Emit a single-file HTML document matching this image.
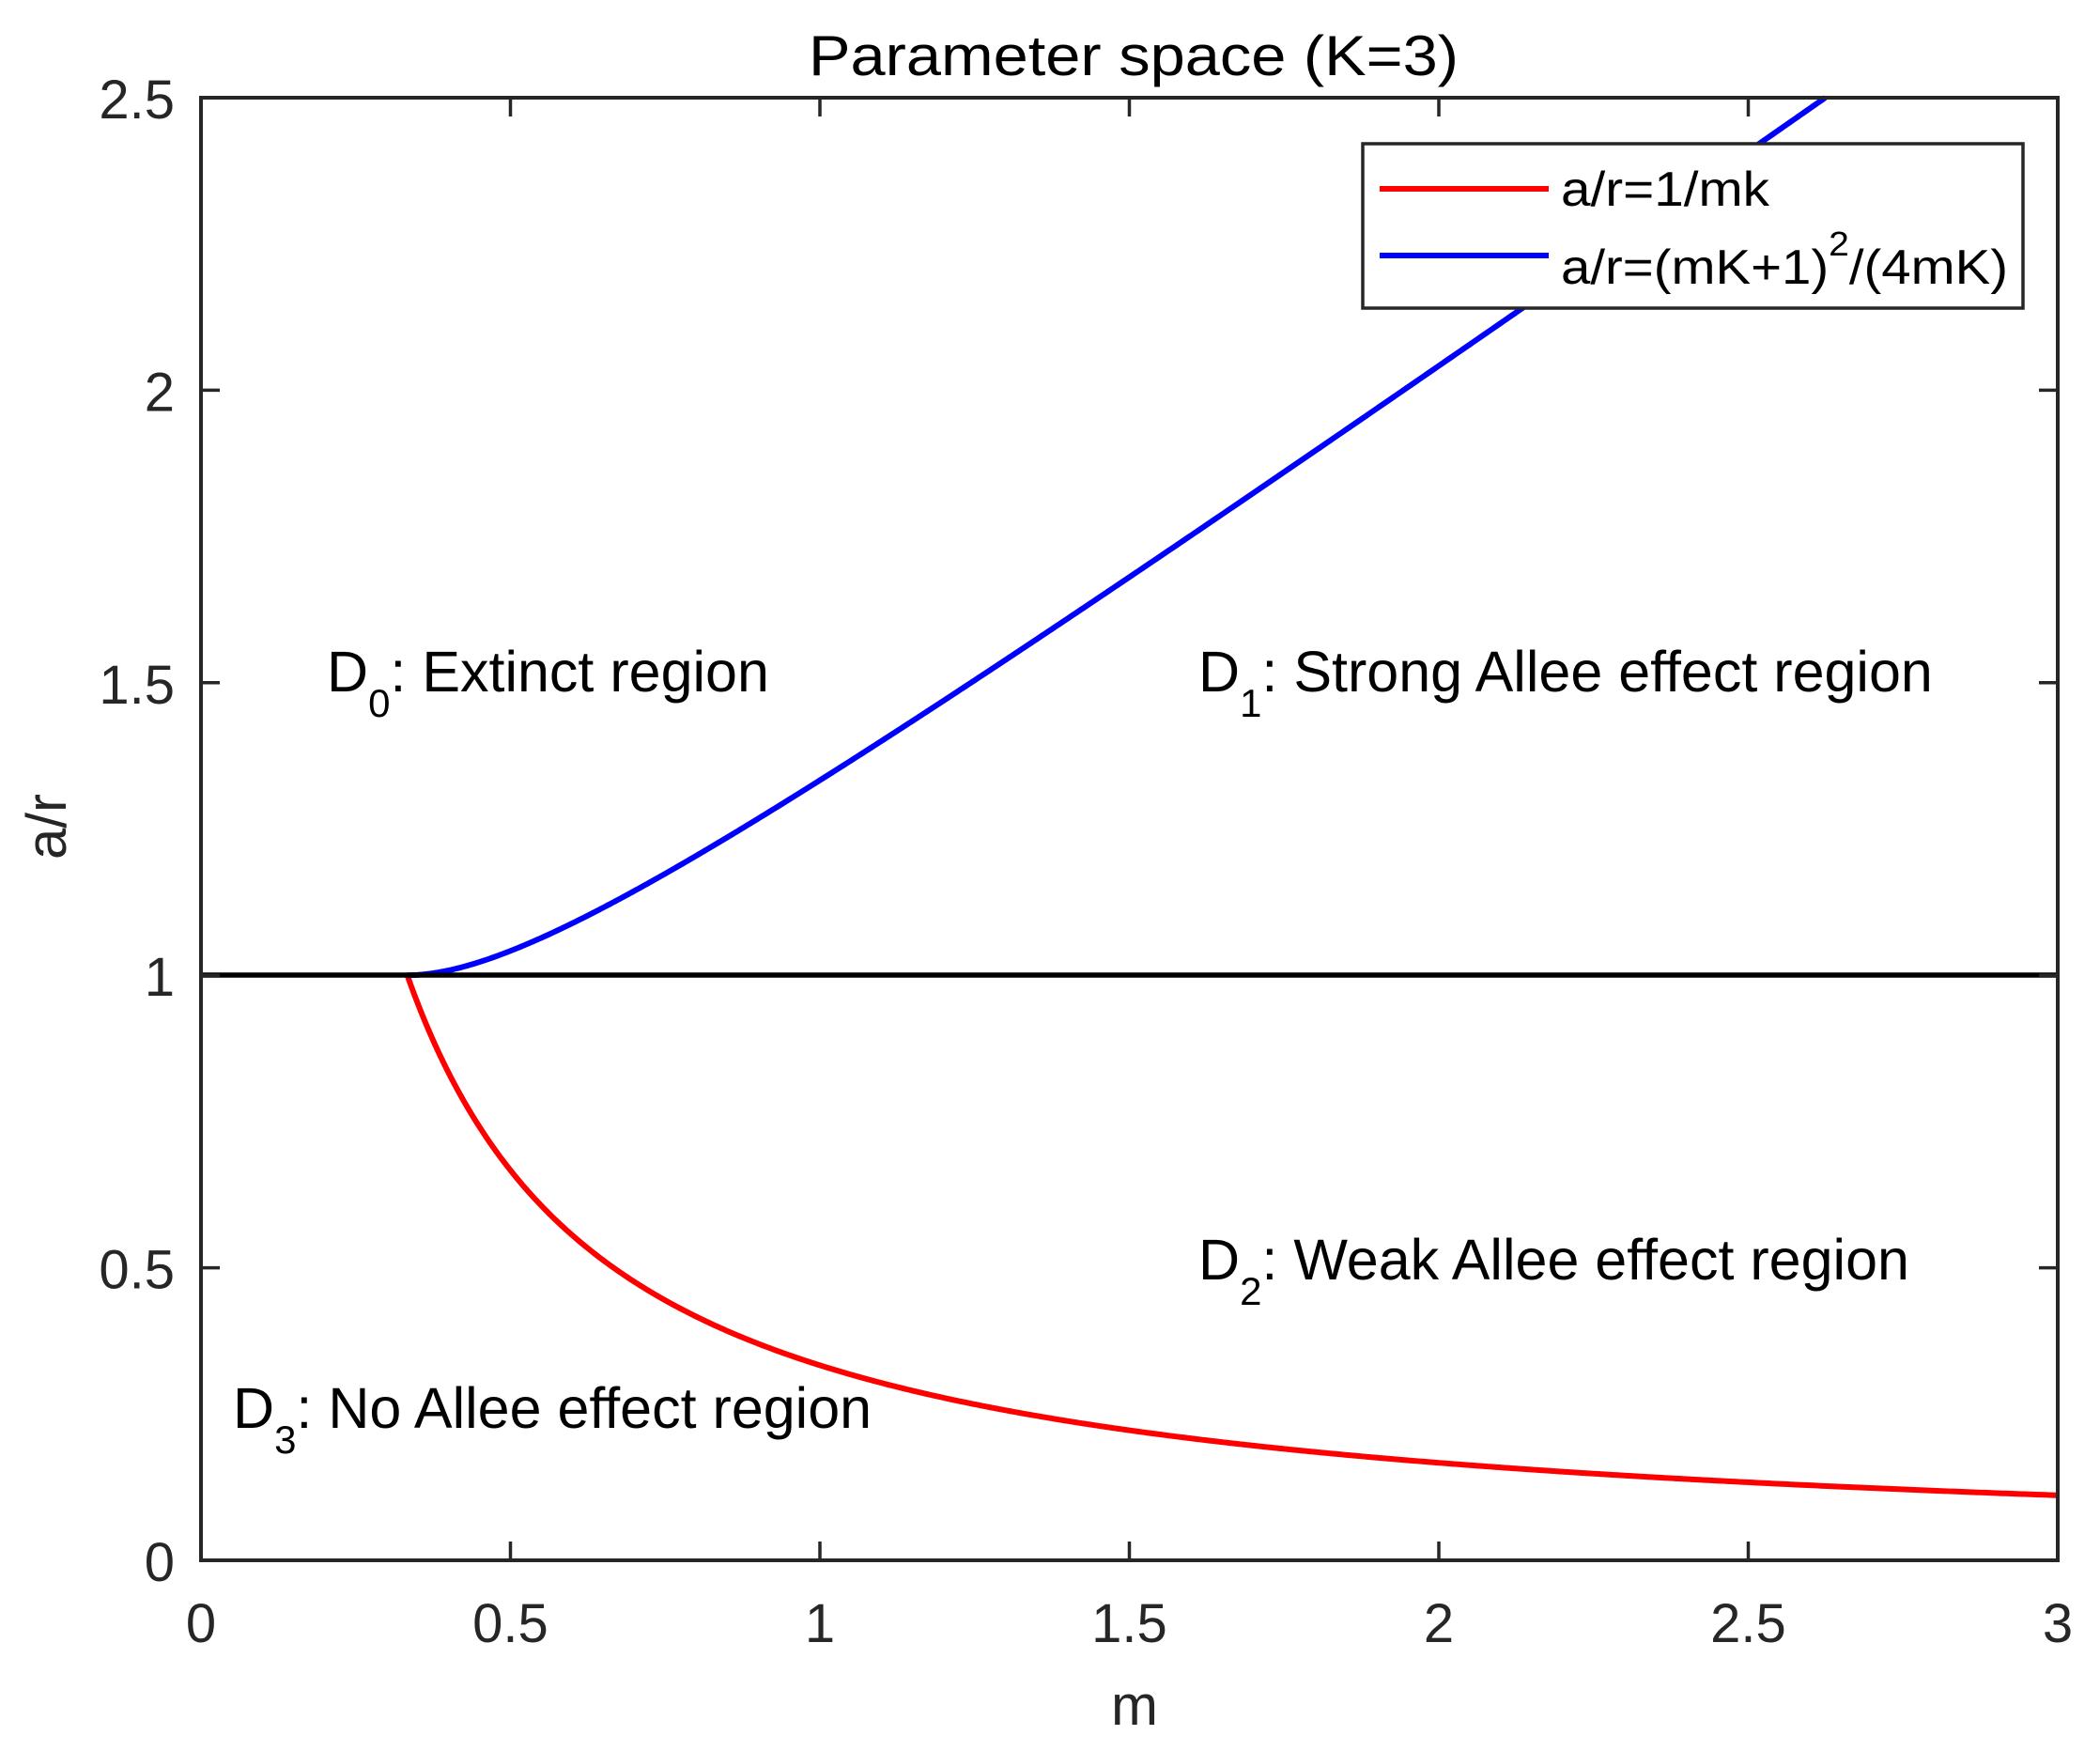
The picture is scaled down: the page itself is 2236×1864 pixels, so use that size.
<!DOCTYPE html>
<html><head><meta charset="utf-8"><style>html,body{margin:0;padding:0;background:#fff}svg{display:block}</style></head>
<body>
<svg id="s" width="2236" height="1864" viewBox="0 0 2236 1864" xmlns="http://www.w3.org/2000/svg" font-family="Liberation Sans, Arial, sans-serif">
<rect width="2236" height="1864" fill="#fff"/>
<g id="curves"></g>
<line x1="214" y1="1038" x2="2191" y2="1038" stroke="#000" stroke-width="5.5"/>
<rect x="214" y="104" width="1977" height="1557" fill="none" stroke="#262626" stroke-width="4"/>
<g id="ticks" stroke="#262626" stroke-width="3.5"></g>
<g id="labels" fill="#262626" font-size="58"></g>
<text x="1207" y="80" font-size="60" text-anchor="middle" fill="#000" textLength="692" lengthAdjust="spacingAndGlyphs">Parameter space (K=3)</text>
<text x="1208" y="1836" font-size="60" text-anchor="middle" fill="#262626">m</text>
<text transform="translate(70,880) rotate(-90)" font-size="60" text-anchor="middle" fill="#262626">a/r</text>
<g fill="#000" font-size="61">
<text x="348" y="736">D<tspan font-size="42" dy="27">0</tspan><tspan dy="-27">: Extinct region</tspan></text>
<text x="1276" y="736">D<tspan font-size="42" dy="27">1</tspan><tspan dy="-27">: Strong Allee effect region</tspan></text>
<text x="1276" y="1362">D<tspan font-size="42" dy="27">2</tspan><tspan dy="-27">: Weak Allee effect region</tspan></text>
<text x="248" y="1520">D<tspan font-size="42" dy="27">3</tspan><tspan dy="-27">: No Allee effect region</tspan></text>
</g>
<rect x="1451" y="153" width="703" height="175" fill="#fff" stroke="#262626" stroke-width="3.5"/>
<line x1="1469" y1="201" x2="1649" y2="201" stroke="#f00" stroke-width="6"/>
<line x1="1469" y1="272" x2="1649" y2="272" stroke="#00f" stroke-width="6"/>
<g fill="#000" font-size="52">
<text x="1662" y="219" textLength="222" lengthAdjust="spacingAndGlyphs">a/r=1/mk</text>
<text x="1662" y="302" textLength="476" lengthAdjust="spacingAndGlyphs">a/r=(mK+1)<tspan font-size="36" dy="-30">2</tspan><tspan dy="30">/(4mK)</tspan></text>
</g>
<script>
(function(){
var L=214,R=2191,T=104,B=1661;
function X(m){return L+(R-L)*m/3}
function Y(v){return B-(B-T)*v/2.5}
var ns="http://www.w3.org/2000/svg";
var c=document.getElementById("curves");
var red="",blue="";
for(var i=0;i<=600;i++){var m=1/3+(3-1/3)*i/600;red+=(i?"L":"M")+X(m).toFixed(2)+","+Y(1/(3*m)).toFixed(2);}
var first=true;
for(var i=0;i<=800;i++){var m=1/3+(3-1/3)*i/800;var v=(3*m+1)*(3*m+1)/(12*m);if(v>2.5){var lo=m-(3-1/3)/800,hi=m;for(var k=0;k<40;k++){var md=(lo+hi)/2;var vv=(3*md+1)*(3*md+1)/(12*md);if(vv>2.5)hi=md;else lo=md;}blue+="L"+X(lo).toFixed(2)+","+Y(2.5).toFixed(2);break;}blue+=(first?"M":"L")+X(m).toFixed(2)+","+Y(v).toFixed(2);first=false;}
function p(d,col){var e=document.createElementNS(ns,"path");e.setAttribute("d",d);e.setAttribute("fill","none");e.setAttribute("stroke",col);e.setAttribute("stroke-width","6");c.appendChild(e);}
p(red,"#f00");p(blue,"#00f");
var t=document.getElementById("ticks"),lb=document.getElementById("labels");
function ln(a,b,cc,d){var e=document.createElementNS(ns,"line");e.setAttribute("x1",a);e.setAttribute("y1",b);e.setAttribute("x2",cc);e.setAttribute("y2",d);t.appendChild(e);}
function tx(x,y,s,anc){var e=document.createElementNS(ns,"text");e.setAttribute("x",x);e.setAttribute("y",y);e.setAttribute("text-anchor",anc);e.textContent=s;lb.appendChild(e);}
var xs=["0","0.5","1","1.5","2","2.5","3"];
for(var i=0;i<7;i++){var x=X(i*0.5);ln(x,B,x,B-20);ln(x,T,x,T+20);tx(x,1748,xs[i],"middle");}
var ys=["0","0.5","1","1.5","2","2.5"];
for(var i=0;i<6;i++){var y=Y(i*0.5);ln(L,y,L+20,y);ln(R,y,R-20,y);tx(186,y+22,ys[i],"end");}
})();
</script>
</svg>
</body></html>
